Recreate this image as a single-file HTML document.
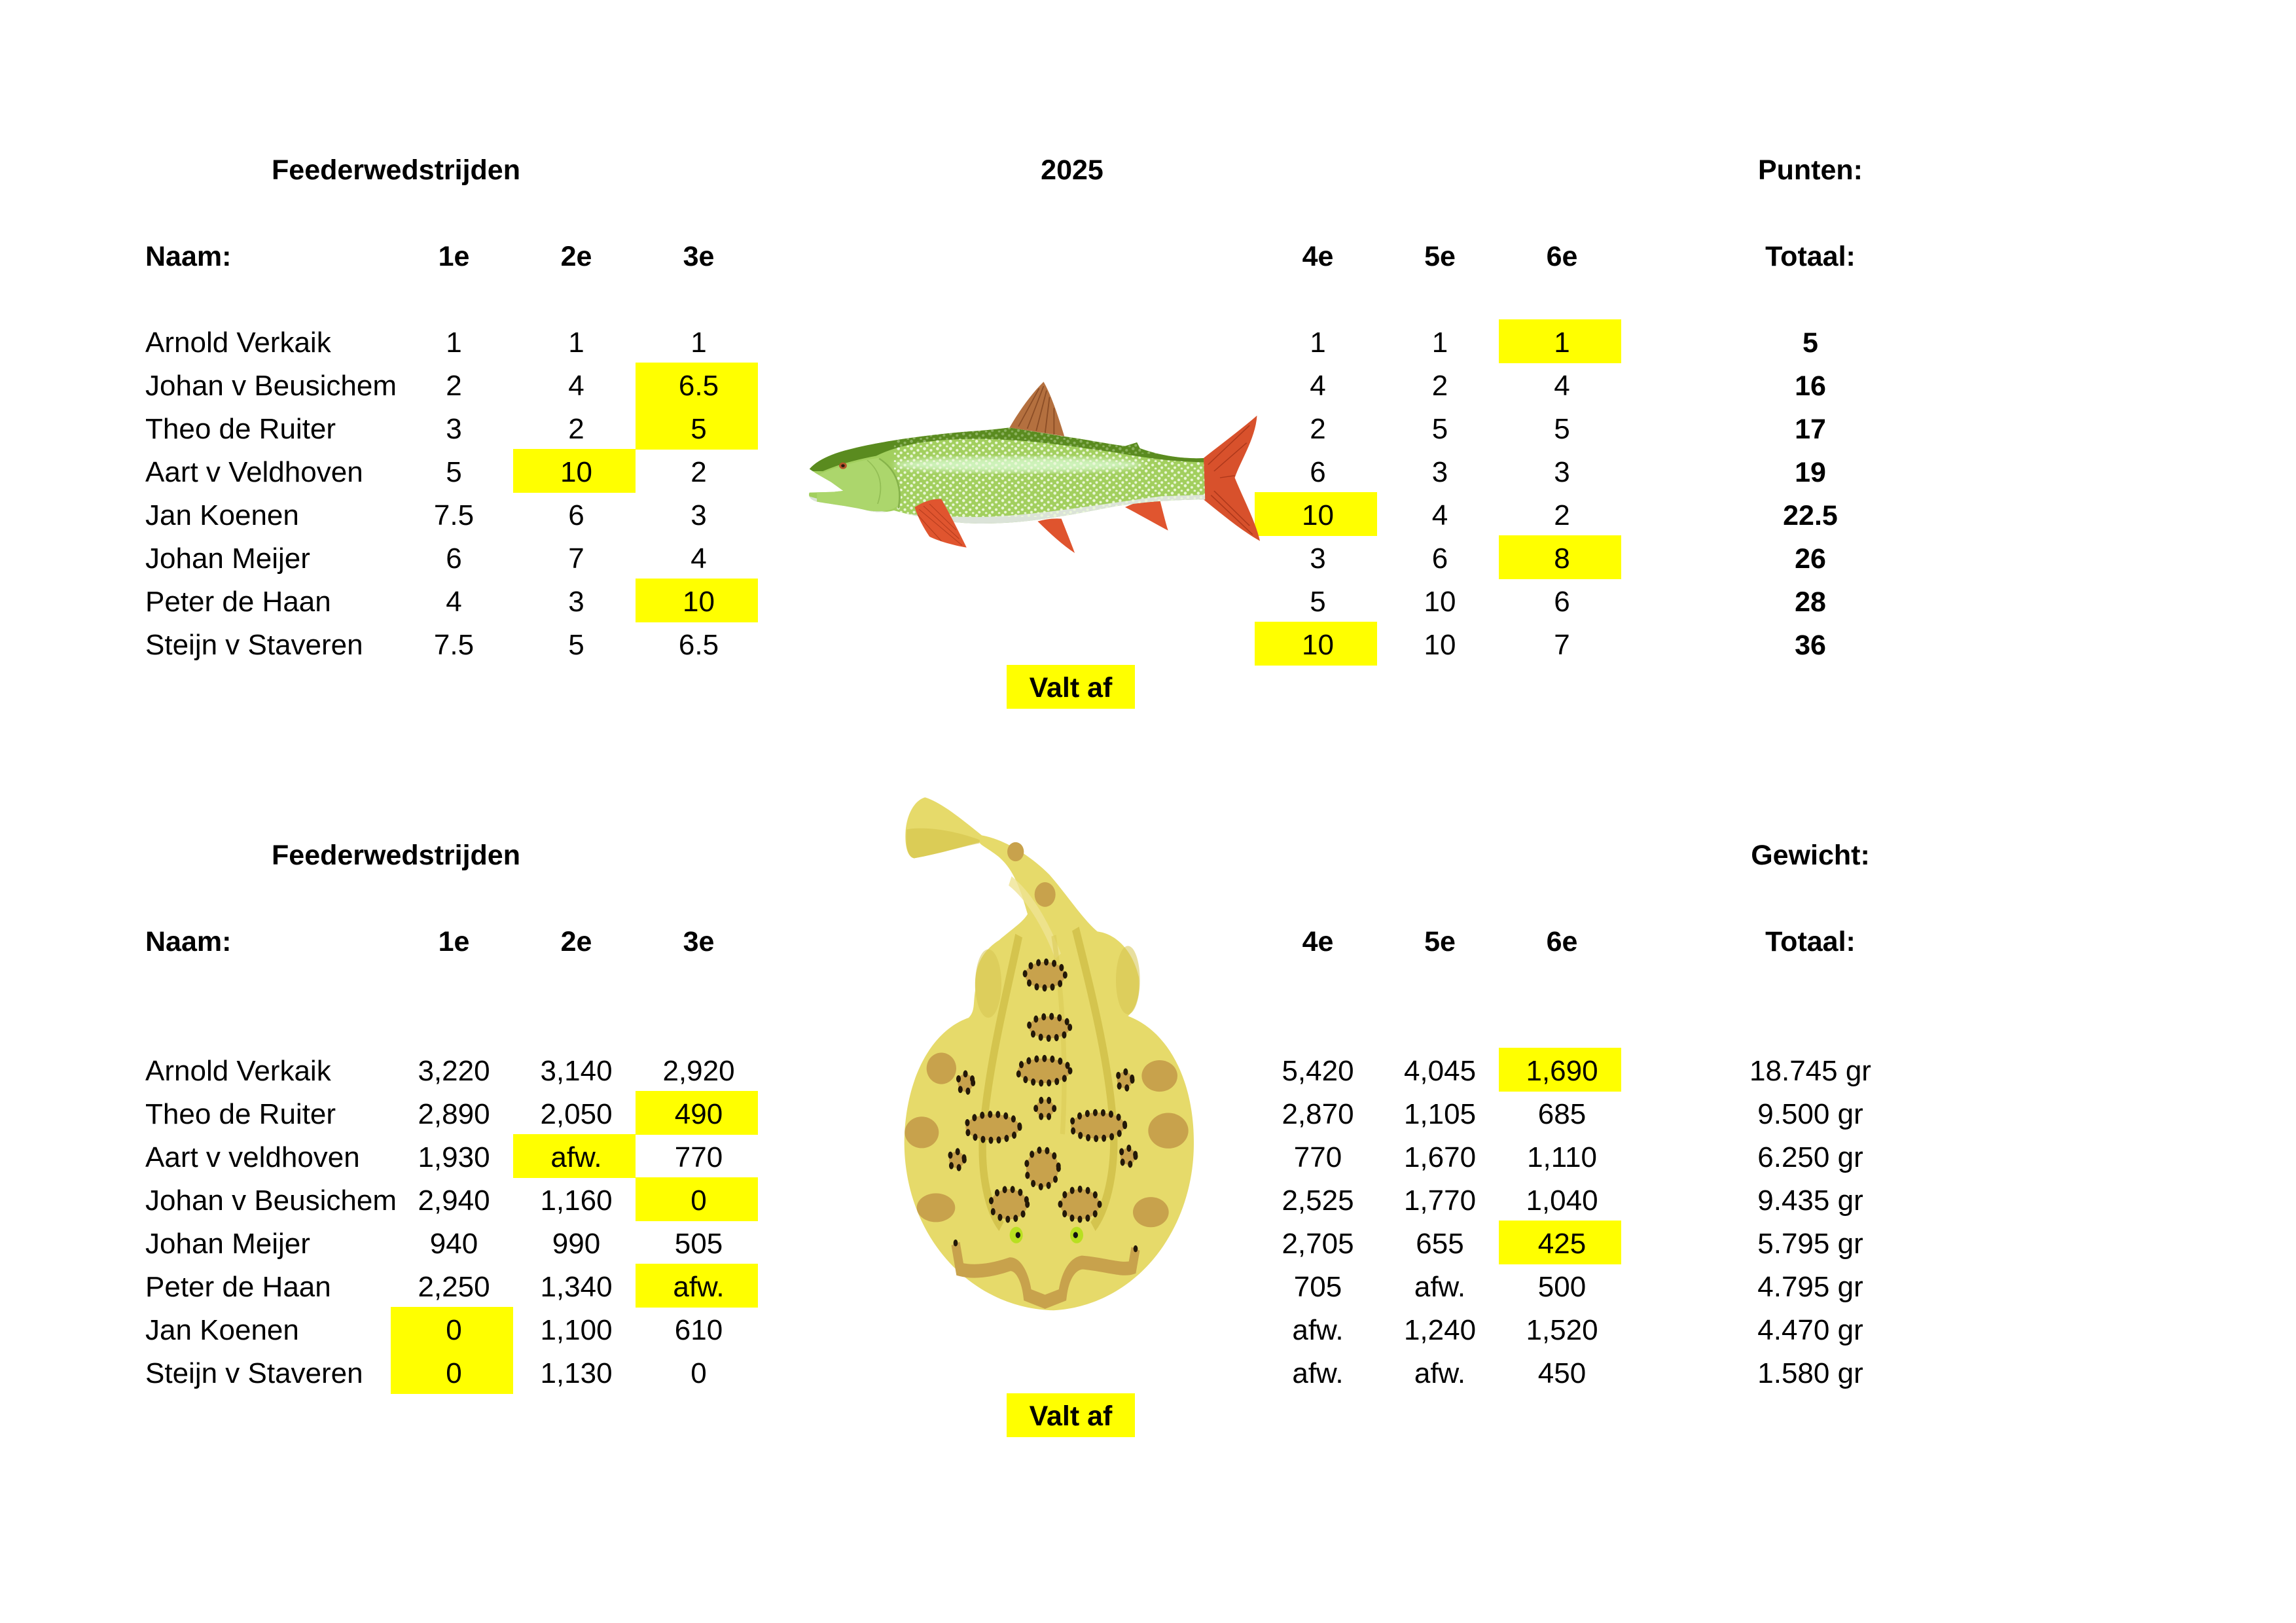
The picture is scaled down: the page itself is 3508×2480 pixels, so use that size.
<!DOCTYPE html>
<html><head><meta charset="utf-8"><style>
html,body{margin:0;padding:0;background:#fff}
#p{position:relative;width:3508px;height:2480px;overflow:hidden;background:#fff}
.t{position:absolute;font-family:"Liberation Sans",Arial,sans-serif;font-size:44px;height:66px;line-height:66px;white-space:nowrap;color:#000}
.c{text-align:center}
.b{font-weight:bold;font-size:43px}
.y{position:absolute;background:#ffff00}
.B{left:600px;width:187px}.C{left:787px;width:187px}.D{left:974px;width:187px}
.E{left:1920px;width:187px}.F{left:2107px;width:186px}.G{left:2293px;width:187px}
.T{left:2616px;width:300px}
.N{left:222px}
</style></head><body><div id="p">

<!-- yellow cells top -->
<div class="y" style="left:2290px;top:488px;width:187px;height:67px"></div>
<div class="y" style="left:971px;top:554px;width:187px;height:133px"></div>
<div class="y" style="left:784px;top:686px;width:187px;height:67px"></div>
<div class="y" style="left:1917px;top:752px;width:187px;height:67px"></div>
<div class="y" style="left:2290px;top:818px;width:187px;height:67px"></div>
<div class="y" style="left:971px;top:884px;width:187px;height:67px"></div>
<div class="y" style="left:1917px;top:950px;width:187px;height:67px"></div>
<div class="y" style="left:1538px;top:1016px;width:196px;height:67px"></div>

<!-- yellow cells bottom -->
<div class="y" style="left:2290px;top:1601px;width:187px;height:67px"></div>
<div class="y" style="left:971px;top:1667px;width:187px;height:67px"></div>
<div class="y" style="left:784px;top:1733px;width:187px;height:67px"></div>
<div class="y" style="left:971px;top:1799px;width:187px;height:67px"></div>
<div class="y" style="left:2290px;top:1865px;width:187px;height:67px"></div>
<div class="y" style="left:971px;top:1931px;width:187px;height:67px"></div>
<div class="y" style="left:597px;top:1997px;width:187px;height:133px"></div>
<div class="y" style="left:1538px;top:2129px;width:196px;height:67px"></div>

<!-- TOP SECTION -->
<div class="t b c" style="left:405px;width:400px;top:227px">Feederwedstrijden</div>
<div class="t b c" style="left:1538px;width:200px;top:227px">2025</div>
<div class="t b c T" style="top:227px">Punten:</div>

<div class="t b N" style="top:359px">Naam:</div>
<div class="t b c B" style="top:359px">1e</div>
<div class="t b c C" style="top:359px">2e</div>
<div class="t b c D" style="top:359px">3e</div>
<div class="t b c E" style="top:359px">4e</div>
<div class="t b c F" style="top:359px">5e</div>
<div class="t b c G" style="top:359px">6e</div>
<div class="t b c T" style="top:359px">Totaal:</div>

<div class="t N" style="top:491px">Arnold Verkaik</div>
<div class="t c B" style="top:491px">1</div><div class="t c C" style="top:491px">1</div><div class="t c D" style="top:491px">1</div>
<div class="t c E" style="top:491px">1</div><div class="t c F" style="top:491px">1</div><div class="t c G" style="top:491px">1</div>
<div class="t b c T" style="top:491px">5</div>

<div class="t N" style="top:557px">Johan v Beusichem</div>
<div class="t c B" style="top:557px">2</div><div class="t c C" style="top:557px">4</div><div class="t c D" style="top:557px">6.5</div>
<div class="t c E" style="top:557px">4</div><div class="t c F" style="top:557px">2</div><div class="t c G" style="top:557px">4</div>
<div class="t b c T" style="top:557px">16</div>

<div class="t N" style="top:623px">Theo de Ruiter</div>
<div class="t c B" style="top:623px">3</div><div class="t c C" style="top:623px">2</div><div class="t c D" style="top:623px">5</div>
<div class="t c E" style="top:623px">2</div><div class="t c F" style="top:623px">5</div><div class="t c G" style="top:623px">5</div>
<div class="t b c T" style="top:623px">17</div>

<div class="t N" style="top:689px">Aart v Veldhoven</div>
<div class="t c B" style="top:689px">5</div><div class="t c C" style="top:689px">10</div><div class="t c D" style="top:689px">2</div>
<div class="t c E" style="top:689px">6</div><div class="t c F" style="top:689px">3</div><div class="t c G" style="top:689px">3</div>
<div class="t b c T" style="top:689px">19</div>

<div class="t N" style="top:755px">Jan Koenen</div>
<div class="t c B" style="top:755px">7.5</div><div class="t c C" style="top:755px">6</div><div class="t c D" style="top:755px">3</div>
<div class="t c E" style="top:755px">10</div><div class="t c F" style="top:755px">4</div><div class="t c G" style="top:755px">2</div>
<div class="t b c T" style="top:755px">22.5</div>

<div class="t N" style="top:821px">Johan Meijer</div>
<div class="t c B" style="top:821px">6</div><div class="t c C" style="top:821px">7</div><div class="t c D" style="top:821px">4</div>
<div class="t c E" style="top:821px">3</div><div class="t c F" style="top:821px">6</div><div class="t c G" style="top:821px">8</div>
<div class="t b c T" style="top:821px">26</div>

<div class="t N" style="top:887px">Peter de Haan</div>
<div class="t c B" style="top:887px">4</div><div class="t c C" style="top:887px">3</div><div class="t c D" style="top:887px">10</div>
<div class="t c E" style="top:887px">5</div><div class="t c F" style="top:887px">10</div><div class="t c G" style="top:887px">6</div>
<div class="t b c T" style="top:887px">28</div>

<div class="t N" style="top:953px">Steijn v Staveren</div>
<div class="t c B" style="top:953px">7.5</div><div class="t c C" style="top:953px">5</div><div class="t c D" style="top:953px">6.5</div>
<div class="t c E" style="top:953px">10</div><div class="t c F" style="top:953px">10</div><div class="t c G" style="top:953px">7</div>
<div class="t b c T" style="top:953px">36</div>

<div class="t b c" style="left:1538px;width:196px;top:1018px">Valt af</div>

<!-- BOTTOM SECTION -->
<div class="t b c" style="left:405px;width:400px;top:1274px">Feederwedstrijden</div>
<div class="t b c T" style="top:1274px">Gewicht:</div>

<div class="t b N" style="top:1406px">Naam:</div>
<div class="t b c B" style="top:1406px">1e</div>
<div class="t b c C" style="top:1406px">2e</div>
<div class="t b c D" style="top:1406px">3e</div>
<div class="t b c E" style="top:1406px">4e</div>
<div class="t b c F" style="top:1406px">5e</div>
<div class="t b c G" style="top:1406px">6e</div>
<div class="t b c T" style="top:1406px">Totaal:</div>

<div class="t N" style="top:1604px">Arnold Verkaik</div>
<div class="t c B" style="top:1604px">3,220</div><div class="t c C" style="top:1604px">3,140</div><div class="t c D" style="top:1604px">2,920</div>
<div class="t c E" style="top:1604px">5,420</div><div class="t c F" style="top:1604px">4,045</div><div class="t c G" style="top:1604px">1,690</div>
<div class="t c T" style="top:1604px">18.745 gr</div>

<div class="t N" style="top:1670px">Theo de Ruiter</div>
<div class="t c B" style="top:1670px">2,890</div><div class="t c C" style="top:1670px">2,050</div><div class="t c D" style="top:1670px">490</div>
<div class="t c E" style="top:1670px">2,870</div><div class="t c F" style="top:1670px">1,105</div><div class="t c G" style="top:1670px">685</div>
<div class="t c T" style="top:1670px">9.500 gr</div>

<div class="t N" style="top:1736px">Aart v veldhoven</div>
<div class="t c B" style="top:1736px">1,930</div><div class="t c C" style="top:1736px">afw.</div><div class="t c D" style="top:1736px">770</div>
<div class="t c E" style="top:1736px">770</div><div class="t c F" style="top:1736px">1,670</div><div class="t c G" style="top:1736px">1,110</div>
<div class="t c T" style="top:1736px">6.250 gr</div>

<div class="t N" style="top:1802px">Johan v Beusichem</div>
<div class="t c B" style="top:1802px">2,940</div><div class="t c C" style="top:1802px">1,160</div><div class="t c D" style="top:1802px">0</div>
<div class="t c E" style="top:1802px">2,525</div><div class="t c F" style="top:1802px">1,770</div><div class="t c G" style="top:1802px">1,040</div>
<div class="t c T" style="top:1802px">9.435 gr</div>

<div class="t N" style="top:1868px">Johan Meijer</div>
<div class="t c B" style="top:1868px">940</div><div class="t c C" style="top:1868px">990</div><div class="t c D" style="top:1868px">505</div>
<div class="t c E" style="top:1868px">2,705</div><div class="t c F" style="top:1868px">655</div><div class="t c G" style="top:1868px">425</div>
<div class="t c T" style="top:1868px">5.795 gr</div>

<div class="t N" style="top:1934px">Peter de Haan</div>
<div class="t c B" style="top:1934px">2,250</div><div class="t c C" style="top:1934px">1,340</div><div class="t c D" style="top:1934px">afw.</div>
<div class="t c E" style="top:1934px">705</div><div class="t c F" style="top:1934px">afw.</div><div class="t c G" style="top:1934px">500</div>
<div class="t c T" style="top:1934px">4.795 gr</div>

<div class="t N" style="top:2000px">Jan Koenen</div>
<div class="t c B" style="top:2000px">0</div><div class="t c C" style="top:2000px">1,100</div><div class="t c D" style="top:2000px">610</div>
<div class="t c E" style="top:2000px">afw.</div><div class="t c F" style="top:2000px">1,240</div><div class="t c G" style="top:2000px">1,520</div>
<div class="t c T" style="top:2000px">4.470 gr</div>

<div class="t N" style="top:2066px">Steijn v Staveren</div>
<div class="t c B" style="top:2066px">0</div><div class="t c C" style="top:2066px">1,130</div><div class="t c D" style="top:2066px">0</div>
<div class="t c E" style="top:2066px">afw.</div><div class="t c F" style="top:2066px">afw.</div><div class="t c G" style="top:2066px">450</div>
<div class="t c T" style="top:2066px">1.580 gr</div>

<div class="t b c" style="left:1538px;width:196px;top:2131px">Valt af</div>

<!-- FISH -->
<svg style="position:absolute;left:1230px;top:570px" width="710" height="290" viewBox="0 0 1568 870" preserveAspectRatio="none">
<defs>
<clipPath id="fb"><path d="M15 440 C40 400 90 370 150 350 C250 315 400 285 550 268 C620 262 660 255 690 250 L870 290 C950 305 1020 325 1080 335 L1120 318 L1130 345 C1200 380 1280 395 1345 390 L1350 580 C1250 580 1150 590 1050 610 C900 650 750 690 600 690 C480 690 380 660 300 630 C270 640 240 640 210 630 C150 610 80 600 40 590 C15 580 10 560 15 548 L96 545 L129 540 L88 500 L37 460 Z"/></clipPath>
<pattern id="sp" width="44" height="34" patternUnits="userSpaceOnUse">
<ellipse cx="7" cy="7" rx="5" ry="7" fill="#eaf7d8"/>
<ellipse cx="29" cy="14" rx="4.5" ry="6" fill="#eaf7d8"/>
<ellipse cx="16" cy="26" rx="4.5" ry="6" fill="#eaf7d8"/>
<ellipse cx="39" cy="30" rx="4" ry="5" fill="#eaf7d8"/>
</pattern>
<filter id="bl"><feGaussianBlur stdDeviation="12"/></filter>
</defs>
<path d="M690 250 C720 180 760 100 805 40 C830 100 850 180 875 290 Z" fill="#b4703f"/>
<g stroke="#7a3f1c" stroke-width="4" fill="none" opacity=".7">
<path d="M720 245 L790 70"/><path d="M750 255 L805 60"/><path d="M780 265 L815 80"/><path d="M810 275 L825 110"/><path d="M840 282 L840 160"/>
</g>
<path d="M1340 395 C1400 330 1470 260 1525 195 C1520 300 1470 400 1450 480 C1480 580 1520 680 1535 770 C1470 720 1400 640 1345 580 Z" fill="#d8512c"/>
<g stroke="#9c2e14" stroke-width="4" fill="none" opacity=".7">
<path d="M1360 420 L1500 240"/><path d="M1380 450 L1490 320"/><path d="M1400 480 L1450 470"/><path d="M1380 540 L1500 700"/><path d="M1370 560 L1510 740"/>
</g>
<path d="M1080 615 C1120 590 1160 575 1195 570 C1205 620 1215 680 1225 722 C1180 690 1130 650 1080 615 Z" fill="#e0552f"/>
<path d="M785 680 C810 670 840 665 865 668 C880 720 895 770 910 825 C870 790 830 740 785 680 Z" fill="#df542e"/>
<g clip-path="url(#fb)">
<rect x="0" y="200" width="1400" height="520" fill="#a2cf5e"/>
<path d="M0 560 C200 640 400 660 600 660 C800 650 1000 600 1200 565 L1400 555 L1400 720 L0 720 Z" fill="#dbe3d8"/>
<ellipse cx="720" cy="420" rx="420" ry="34" fill="#cdf2ba" filter="url(#bl)"/>
<rect x="300" y="200" width="1060" height="460" fill="url(#sp)"/>
<path d="M0 200 L1400 200 L1400 410 C1250 410 1150 390 1050 365 C900 335 750 305 600 302 C450 300 330 320 240 380 C180 395 110 420 60 450 L0 450 Z" fill="#5a8b1f"/>
<rect x="300" y="240" width="1060" height="130" fill="url(#sp)" opacity=".35"/>
<path d="M40 470 C100 430 200 395 250 390 C310 440 330 520 320 600 C300 630 260 640 210 630 C150 610 80 600 40 590 Z" fill="#acd66c"/>
<path d="M250 392 C305 440 330 520 315 620" stroke="#86b34a" stroke-width="6" fill="none"/>
<path d="M210 400 C255 450 265 520 245 600" stroke="#93be55" stroke-width="4" fill="none"/>
</g>
<path d="M370 615 C400 590 430 575 460 578 C490 650 520 730 545 800 C500 790 450 770 420 750 C400 710 380 660 370 615 Z" fill="#e0552f"/>
<g stroke="#a83518" stroke-width="3" fill="none" opacity=".7">
<path d="M385 625 L530 790"/><path d="M400 610 L520 760"/><path d="M420 600 L510 720"/><path d="M380 650 L460 770"/>
</g>
<ellipse cx="128" cy="425" rx="13" ry="15" fill="#b4552b"/>
<ellipse cx="128" cy="425" rx="6" ry="7" fill="#2a1a10"/>
</svg>

<!-- RAY -->
<svg style="position:absolute;left:1370px;top:1210px" width="480" height="820" viewBox="0 0 1440 1568" preserveAspectRatio="none">
<path d="M40 130 C40 70 80 25 130 16 C200 30 280 70 390 127 C480 137 600 178 700 242 C780 300 850 370 920 408 C1000 414 1080 459 1110 541 C1120 600 1090 640 1060 655 C1250 700 1365 850 1362 1030 C1360 1280 1100 1500 720 1515 C340 1510 40 1300 35 1030 C35 850 150 700 330 660 C360 640 350 620 360 580 C355 520 380 470 470 433 C530 400 580 380 600 357 C570 290 540 230 470 191 C420 165 380 155 380 147 C300 160 200 180 80 194 C50 190 40 160 40 130 Z" fill="#e6da6a"/>
<path d="M45 110 C120 100 250 110 380 140 L380 150 C300 160 200 180 80 194 C50 190 40 160 45 110 Z" fill="#d6c64e" opacity=".7"/>
<ellipse cx="420" cy="560" rx="60" ry="100" fill="#d5c550" opacity=".55"/>
<ellipse cx="1060" cy="550" rx="55" ry="100" fill="#d5c550" opacity=".55"/>
<path d="M560 420 C500 600 420 800 395 1000 C385 1120 420 1220 480 1270" stroke="#d4c44e" stroke-width="34" fill="none"/>
<path d="M820 400 C890 580 980 800 995 1000 C1000 1120 960 1220 900 1270" stroke="#d4c44e" stroke-width="34" fill="none"/>
<path d="M520 260 C600 300 680 380 740 480" stroke="#efe493" stroke-width="30" fill="none" opacity=".8"/>
<path d="M720 420 C760 600 780 800 760 1000" stroke="#dacb56" stroke-width="22" fill="none" opacity=".6"/>
<ellipse cx="545" cy="175" rx="38" ry="28" fill="#c8a24c"/>
<ellipse cx="680" cy="300" rx="48" ry="36" fill="#c8a24c"/>
<g fill="#c8a24c">
<ellipse cx="205" cy="808" rx="68" ry="46"/>
<ellipse cx="115" cy="995" rx="78" ry="46"/>
<ellipse cx="180" cy="1215" rx="88" ry="42"/>
<ellipse cx="1205" cy="830" rx="82" ry="46"/>
<ellipse cx="1245" cy="990" rx="92" ry="52"/>
<ellipse cx="1165" cy="1228" rx="82" ry="44"/>
</g>
<g fill="#c8a24c" stroke="#231808" stroke-width="21" stroke-linecap="round" stroke-dasharray="0.1 36">
<ellipse cx="680" cy="535" rx="92" ry="38"/>
<ellipse cx="700" cy="688" rx="94" ry="32"/>
<ellipse cx="675" cy="815" rx="120" ry="36"/>
<ellipse cx="680" cy="925" rx="42" ry="26"/>
<ellipse cx="440" cy="980" rx="124" ry="38"/>
<ellipse cx="922" cy="975" rx="124" ry="38"/>
<ellipse cx="668" cy="1100" rx="74" ry="54"/>
<ellipse cx="515" cy="1205" rx="84" ry="44"/>
<ellipse cx="840" cy="1205" rx="90" ry="44"/>
<ellipse cx="315" cy="850" rx="35" ry="26"/>
<ellipse cx="275" cy="1075" rx="35" ry="24"/>
<ellipse cx="1045" cy="842" rx="35" ry="24"/>
<ellipse cx="1060" cy="1065" rx="35" ry="24"/>
</g>
<path d="M270 1320 L290 1395 C350 1405 430 1400 520 1380 C560 1380 590 1420 600 1470 L680 1490 L760 1470 C770 1420 800 1380 850 1375 C950 1380 1030 1400 1080 1390 L1095 1335" stroke="#c8a24c" stroke-width="40" fill="none"/>
<circle cx="270" cy="1318" r="10" fill="#231808"/>
<circle cx="1095" cy="1335" r="10" fill="#231808"/>
<ellipse cx="548" cy="1295" rx="30" ry="24" fill="#b8e020"/>
<ellipse cx="556" cy="1295" rx="11" ry="9" fill="#111"/>
<ellipse cx="825" cy="1295" rx="30" ry="24" fill="#b8e020"/>
<ellipse cx="820" cy="1295" rx="11" ry="9" fill="#111"/>
</svg>

</div></body></html>
